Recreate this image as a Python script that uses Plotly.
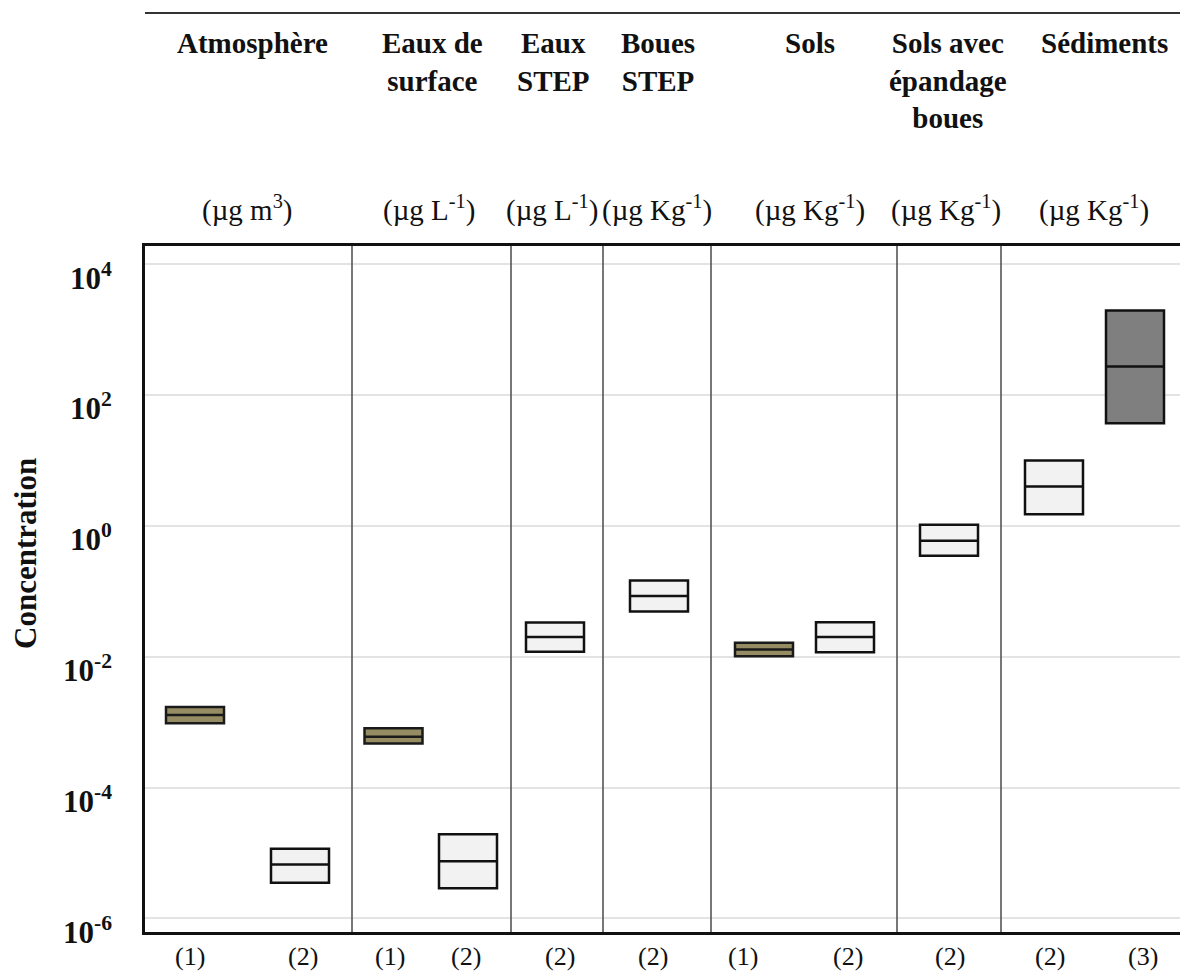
import plotly.graph_objects as go

# ---------------- data ----------------
compartments = ["Atmosphère", "Eaux de<br>surface", "Eaux<br>STEP", "Boues<br>STEP",
                "Sols", "Sols avec<br>épandage<br>boues", "Sédiments"]
units = ["(µg m<sup>3</sup>)", "(µg L<sup>-1</sup>)", "(µg L<sup>-1</sup>)", "(µg Kg<sup>-1</sup>)",
         "(µg Kg<sup>-1</sup>)", "(µg Kg<sup>-1</sup>)", "(µg Kg<sup>-1</sup>)"]
box_labels = ["(1)", "(2)", "(1)", "(2)", "(2)", "(2)", "(1)", "(2)", "(2)", "(2)", "(3)"]
box_source = [1, 2, 1, 2, 2, 2, 1, 2, 2, 2, 3]
q1_vals = [9.6e-4, 3.5e-6, 4.7e-4, 2.9e-6, 0.0119, 0.049, 0.0102, 0.0117, 0.35, 1.5, 37]
median_vals = [1.29e-3, 6.7e-6, 6.0e-4, 7.5e-6, 0.0201, 0.085, 0.0129, 0.0201, 0.59, 4.0, 272]
q3_vals = [1.71e-3, 1.16e-5, 8.1e-4, 1.93e-5, 0.0333, 0.146, 0.0163, 0.0336, 1.04, 10.0, 1950]
y_tick_exponents = [4, 2, 0, -2, -4, -6]

# ---------------- layout (positions on an abstract x axis) ----------------
box_pos = [0.50, 1.55, 2.485, 3.23, 4.10, 5.14, 6.19, 7.00, 8.04, 9.09, 9.90]
label_pos = [0.45, 1.58, 2.45, 3.21, 4.15, 5.08, 5.98, 7.03, 8.05, 9.05, 9.98]
sep_pos = [2.07, 3.66, 4.58, 5.66, 7.52, 8.56]
head_pos = [1.07, 2.875, 4.08, 5.13, 6.65, 8.03, 9.59]
unit_pos = [1.02, 2.84, 4.07, 5.12, 6.65, 8.01, 9.49]
X_MAX = 10.43
BOX_W = 0.58
Y_RANGE = [-6.207, 4.277]

OFF = 8  # page body margin of the html
W, H = 1188 - OFF, 972 - OFF
PLOT_TOP, PLOT_BOT = 246, 932       # screen pixels
ML, MR = 145 - OFF, 0
MT = PLOT_TOP - OFF
MB = H - (PLOT_BOT - OFF)
PLOT_H = PLOT_BOT - PLOT_TOP


def py(pix):
    """screen pixel row -> paper y"""
    return (PLOT_BOT - pix) / PLOT_H


FONT = "Liberation Serif"
fill_by_source = {1: "#958c63", 2: "#f2f2f2", 3: "#7f7f7f"}
line_by_source = {1: "#1a1a1a", 2: "#111111", 3: "#111111"}

fig = go.Figure()
for i in range(len(box_pos)):
    s = box_source[i]
    fig.add_trace(go.Box(
        x=[box_pos[i]], q1=[q1_vals[i]], median=[median_vals[i]], q3=[q3_vals[i]],
        lowerfence=[q1_vals[i]], upperfence=[q3_vals[i]],
        width=BOX_W, fillcolor=fill_by_source[s],
        line=dict(color=line_by_source[s], width=2.5),
        whiskerwidth=0, boxpoints=False, showlegend=False, hoverinfo="skip",
    ))

shapes = []
for xs in sep_pos:
    shapes.append(dict(type="line", xref="x", yref="paper", x0=xs, x1=xs, y0=0, y1=1,
                       line=dict(color="#555555", width=1.6), layer="above"))
# top rule above headers
shapes.append(dict(type="line", xref="paper", yref="paper", x0=0, x1=1, y0=py(13), y1=py(13),
                   line=dict(color="#333333", width=2.2)))

annotations = []
for t, xp in zip(compartments, head_pos):
    annotations.append(dict(text=t, x=xp, xref="x", y=py(25), yref="paper", yanchor="top",
                            xanchor="center", showarrow=False, align="center",
                            font=dict(family=FONT, size=29, color="#111", weight="bold")))
for t, xp in zip(units, unit_pos):
    annotations.append(dict(text=t, x=xp, xref="x", y=py(209), yref="paper", yanchor="middle",
                            xanchor="center", showarrow=False,
                            font=dict(family=FONT, size=29, color="#111")))
for e in y_tick_exponents:
    annotations.append(dict(text=f"10<sup>{e}</sup>", x=0, xref="paper", xshift=-31, xanchor="right",
                            y=e, yref="y", yanchor="middle", yshift=-12, showarrow=False,
                            font=dict(family=FONT, size=31, color="#111", weight="bold")))
for t, xp in zip(box_labels, label_pos):
    annotations.append(dict(text=t, x=xp, xref="x", y=py(956), yref="paper", yanchor="middle",
                            xanchor="center", showarrow=False,
                            font=dict(family=FONT, size=26, color="#111")))
annotations.append(dict(text="Concentration", x=0, xref="paper", xshift=-120, xanchor="center",
                        y=py(554), yref="paper", yanchor="middle", textangle=-90, showarrow=False,
                        font=dict(family=FONT, size=31, color="#111", weight="bold")))

fig.update_layout(
    width=W, height=H,
    margin=dict(l=ML, r=MR, t=MT, b=MB),
    paper_bgcolor="white", plot_bgcolor="white",
    shapes=shapes, annotations=annotations,
    xaxis=dict(range=[0, X_MAX], showgrid=False, zeroline=False, showline=True, mirror=True,
               linecolor="#111", linewidth=2.5, ticks="", showticklabels=False),
    yaxis=dict(type="log", range=Y_RANGE, showgrid=True, gridcolor="#e3e3e3", gridwidth=2,
               tickvals=[10 ** e for e in y_tick_exponents], showticklabels=False, ticks="",
               zeroline=False, showline=True, linecolor="#111", linewidth=2.5),
)

fig.write_html("out.html")
